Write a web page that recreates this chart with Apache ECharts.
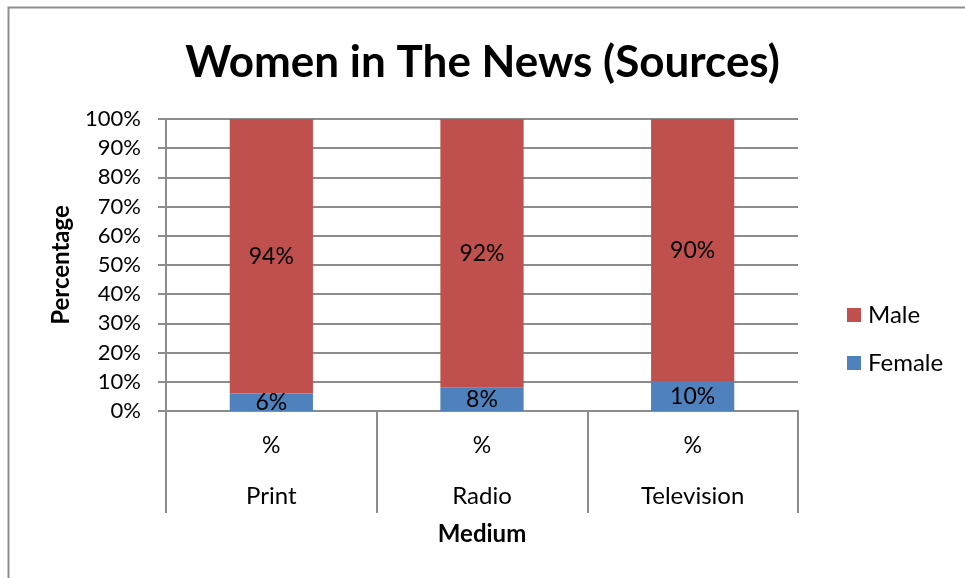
<!DOCTYPE html>
<html>
<head>
<meta charset="utf-8">
<script src="https://cdn.jsdelivr.net/npm/echarts@6/dist/echarts.min.js"></script>
<style>
  html, body { margin: 0; padding: 0; background: #fff; }
  #chart { width: 965px; height: 578px; }
</style>
</head>
<body>
<div id="chart"></div>
<script>
// Share of news sources by gender, per medium
const categories = ['Print', 'Radio', 'Television'];
const femaleValues = [6, 8, 10];
const maleValues = [94, 92, 90];
const yTicks = [0, 10, 20, 30, 40, 50, 60, 70, 80, 90, 100];

const FONT = 'Lato, "Open Sans", "Liberation Sans", sans-serif';
const GRID_COLOR = '#8c8c8c';

const chart = echarts.init(document.getElementById('chart'), null, { renderer: 'canvas' });

chart.setOption({
  backgroundColor: '#ffffff',
  animation: false,
  textStyle: { fontFamily: FONT, color: '#000' },
  graphic: [{
    type: 'rect',
    shape: { x: 8.5, y: 7.5, width: 1000, height: 600 },
    style: { fill: 'none', stroke: '#8e8e8e', lineWidth: 2 },
    silent: true
  }],
  title: {
    text: 'Women in The News (Sources)',
    left: 'center',
    top: 36,
    textStyle: { fontFamily: FONT, fontSize: 44, fontWeight: 'bold', color: '#000' }
  },
  legend: {
    orient: 'vertical',
    left: 842,
    top: 298,
    itemWidth: 14,
    itemHeight: 14,
    itemGap: 24,
    icon: 'rect',
    data: ['Male', 'Female'],
    textStyle: { fontFamily: FONT, fontSize: 24, color: '#000', padding: [0, 0, 0, 2] }
  },
  grid: { left: 166, right: 167, top: 119, bottom: 167, containLabel: false },
  xAxis: {
    type: 'category',
    data: categories,
    axisLine: { show: true, lineStyle: { color: GRID_COLOR, width: 2 } },
    axisTick: { show: true, length: 102, alignWithLabel: false, lineStyle: { color: GRID_COLOR, width: 2 } },
    axisLabel: {
      margin: 10,
      formatter: v => '{p|%}\n{c|' + v + '}',
      rich: {
        p: { fontFamily: FONT, fontSize: 23, color: '#000', lineHeight: 50, align: 'center' },
        c: { fontFamily: FONT, fontSize: 24, color: '#000', lineHeight: 50, align: 'center' }
      }
    },
    name: 'Medium',
    nameLocation: 'middle',
    nameGap: 111,
    nameTextStyle: { fontFamily: FONT, fontSize: 24, fontWeight: 'bold', color: '#000' }
  },
  yAxis: {
    type: 'value',
    min: 0,
    max: 100,
    interval: 10,
    axisLine: { show: true, lineStyle: { color: GRID_COLOR, width: 2 } },
    axisTick: { show: true, length: 8, lineStyle: { color: GRID_COLOR, width: 2 } },
    splitLine: { show: true, lineStyle: { color: GRID_COLOR, width: 2 } },
    axisLabel: {
      margin: 25,
      fontFamily: FONT,
      fontSize: 22,
      color: '#000',
      formatter: v => (yTicks.includes(v) ? v + '%' : '')
    },
    name: 'Percentage',
    nameLocation: 'middle',
    nameGap: 93,
    nameRotate: 90,
    nameTextStyle: { fontFamily: FONT, fontSize: 24, fontWeight: 'bold', color: '#000' }
  },
  series: [
    {
      name: 'Female',
      type: 'bar',
      stack: 'total',
      data: femaleValues,
      barWidth: '39.5%',
      itemStyle: { color: '#4f81bd' },
      label: {
        show: true,
        position: 'inside',
        formatter: p => p.value + '%',
        fontFamily: FONT,
        fontSize: 23,
        color: '#000'
      }
    },
    {
      name: 'Male',
      type: 'bar',
      stack: 'total',
      data: maleValues,
      barWidth: '39.5%',
      itemStyle: { color: '#c0504d' },
      label: {
        show: true,
        position: 'inside',
        formatter: p => p.value + '%',
        fontFamily: FONT,
        fontSize: 23,
        color: '#000'
      }
    }
  ]
});
</script>
</body>
</html>
